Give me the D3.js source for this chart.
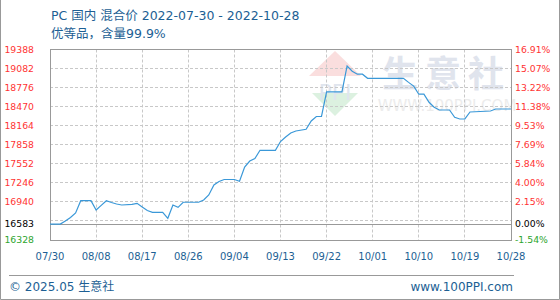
<!DOCTYPE html>
<html>
<head>
<meta charset="utf-8">
<script src="https://cdn.jsdelivr.net/npm/d3@7"></script>
<style>
  body { margin: 0; background: #fff; }
  svg text { font-family: "DejaVu Sans", "Noto Sans CJK SC", sans-serif; }
</style>
</head>
<body>
<div class="graph"></div>
<script>
var dates = ['2022-07-30','2022-08-01','2022-08-02','2022-08-03','2022-08-04','2022-08-05','2022-08-07',
  '2022-08-08','2022-08-09','2022-08-10','2022-08-11','2022-08-12','2022-08-13','2022-08-15','2022-08-16',
  '2022-08-17','2022-08-18','2022-08-19','2022-08-21','2022-08-22','2022-08-23','2022-08-24','2022-08-25',
  '2022-08-28','2022-08-29','2022-08-30','2022-08-31','2022-09-01','2022-09-02','2022-09-04','2022-09-05',
  '2022-09-06','2022-09-07','2022-09-08','2022-09-09','2022-09-12','2022-09-13','2022-09-14','2022-09-15',
  '2022-09-16','2022-09-18','2022-09-19','2022-09-20','2022-09-21','2022-09-22','2022-09-25','2022-09-26',
  '2022-09-27','2022-09-28','2022-09-29','2022-09-30','2022-10-07','2022-10-08','2022-10-09','2022-10-10',
  '2022-10-11','2022-10-12','2022-10-13','2022-10-14','2022-10-16','2022-10-17','2022-10-18','2022-10-19',
  '2022-10-20','2022-10-24','2022-10-25','2022-10-28'];
var prices = [16583,16583,16633,16690,16762,16959,16959,
  16810,16885,16959,16930,16906,16890,16900,16917,
  16858,16802,16773,16773,16677,16890,16853,16934,
  16934,16971,17051,17211,17268,17300,17300,17271,
  17500,17597,17637,17769,17769,17910,17983,18047,
  18079,18106,18240,18312,18312,18706,18706,19123,
  19040,18991,18991,18925,18925,18860,18800,18670,
  18670,18540,18460,18416,18416,18300,18272,18272,
  18384,18400,18432,18432];

var basePrice = 16583;
var leftTicks = [19388,19082,18776,18470,18164,17858,17552,17246,16940,16583,16328];
var rightTicks = ['16.91%','15.07%','13.22%','11.38%','9.53%','7.69%','5.84%','4.00%','2.15%','0.00%','-1.54%'];
var gridValues = [19082,18776,18470,18164,17858,17552,17246,16940,16634];
var xTicks = ['2022-07-30','2022-08-08','2022-08-17','2022-08-26','2022-09-04','2022-09-13',
  '2022-09-22','2022-10-01','2022-10-10','2022-10-19','2022-10-28'];

var width = 560, height = 300;
var plotLeft = 50, plotRight = 511, plotTop = 49.5, plotBottom = 240;
var parse = d3.timeParse('%Y-%m-%d');
var fmt = d3.timeFormat('%m/%d');

var x = d3.scaleTime()
  .domain([parse(xTicks[0]), parse(xTicks[xTicks.length - 1])])
  .range([plotLeft, plotRight]);
var y = d3.scaleLinear()
  .domain([16328, 19388])
  .range([plotBottom, plotTop]);

var svg = d3.select('.graph').append('svg')
  .attr('width', width)
  .attr('height', height);

function crisp(v) { return Math.round(v - 0.5) + 0.5; }

// outer frame
svg.append('path')
  .attr('d', 'M0.5,0V299.5H559.5V0')
  .attr('fill', 'none').attr('stroke', '#999');

// title
svg.append('text').attr('x', 51).attr('y', 20)
  .attr('font-size', 12.5).attr('fill', '#1d5f94')
  .text('PC 国内 混合价 2022-07-30 - 2022-10-28');
svg.append('text').attr('x', 51).attr('y', 38)
  .attr('font-size', 12.5).attr('fill', '#1d5f94')
  .text('优等品，含量99.9%');

// watermark
var wm = svg.append('g');
wm.append('path').attr('d', 'M335,51L309,76H361Z').attr('fill', '#fadede');
wm.append('path').attr('d', 'M312,93H358L335,116Z').attr('fill', '#dcf1e0');
wm.append('text').attr('x', 335).attr('y', 100).attr('text-anchor', 'middle')
  .attr('font-size', 22).attr('font-family', 'DejaVu Serif').attr('fill', '#e0e5ee')
  .text('PPI');
wm.append('text').attr('x', 382).attr('y', 87)
  .attr('font-size', 36).attr('letter-spacing', 7).attr('font-weight', 'bold')
  .attr('fill', '#e0e4ed').text('生意社');
wm.append('text').attr('x', 447).attr('y', 111).attr('text-anchor', 'middle')
  .attr('font-size', 15).attr('fill', '#ececec').text('WWW.100PPI.COM');

// grid
svg.selectAll('.hgrid').data(gridValues).enter().append('line')
  .attr('x1', plotLeft).attr('x2', plotRight)
  .attr('y1', function (d) { return crisp(y(d)); })
  .attr('y2', function (d) { return crisp(y(d)); })
  .attr('stroke', '#c8c8c8').attr('stroke-dasharray', '3,2');
svg.selectAll('.vgrid').data(xTicks.slice(1, -1)).enter().append('line')
  .attr('x1', function (d) { return crisp(x(parse(d))); })
  .attr('x2', function (d) { return crisp(x(parse(d))); })
  .attr('y1', plotTop).attr('y2', plotBottom)
  .attr('stroke', '#c8c8c8').attr('stroke-dasharray', '3,2');

// base price line and plot border
svg.append('line')
  .attr('x1', plotLeft).attr('x2', plotRight)
  .attr('y1', crisp(y(basePrice))).attr('y2', crisp(y(basePrice)))
  .attr('stroke', '#999');
svg.append('rect')
  .attr('x', crisp(plotLeft)).attr('y', crisp(plotTop))
  .attr('width', Math.round(plotRight - plotLeft)).attr('height', Math.round(plotBottom - plotTop))
  .attr('fill', 'none').attr('stroke', '#999');

// price line
var line = d3.line()
  .x(function (d, i) { return x(parse(dates[i])); })
  .y(function (d) { return y(d); });
svg.append('path')
  .attr('d', line(prices))
  .attr('fill', 'none')
  .attr('stroke', '#3a98d8')
  .attr('stroke-width', 1.2);

// axis labels
function tickColor(i) {
  if (i === leftTicks.length - 1) return '#2ea52e';
  if (i === leftTicks.length - 2) return '#000';
  return '#f33';
}
svg.selectAll('.yl').data(leftTicks).enter().append('text')
  .attr('x', 34).attr('y', function (d) { return y(d); })
  .attr('dy', '0.36em').attr('text-anchor', 'end')
  .attr('font-size', 9.3)
  .attr('fill', function (d, i) { return tickColor(i); })
  .text(function (d) { return d; });
svg.selectAll('.yr').data(rightTicks).enter().append('text')
  .attr('x', 515).attr('y', function (d, i) { return y(leftTicks[i]); })
  .attr('dy', '0.36em')
  .attr('font-size', 9.3)
  .attr('fill', function (d, i) { return tickColor(i); })
  .text(function (d) { return d; });
svg.selectAll('.xl').data(xTicks).enter().append('text')
  .attr('x', function (d) { return x(parse(d)); }).attr('y', 260)
  .attr('text-anchor', 'middle')
  .attr('font-size', 10).attr('fill', '#1d5f94')
  .text(function (d) { return fmt(parse(d)); });

// footer
svg.append('line').attr('x1', 9).attr('x2', 514).attr('y1', 275.5).attr('y2', 275.5)
  .attr('stroke', '#999');
svg.append('text').attr('x', 9).attr('y', 291)
  .attr('font-size', 12).attr('fill', '#1d5f94').text('© 2025.05 生意社');
svg.append('text').attr('x', 513).attr('y', 291).attr('text-anchor', 'end')
  .attr('font-size', 12).attr('fill', '#1d5f94').text('www.100PPI.com');
</script>
</body>
</html>
